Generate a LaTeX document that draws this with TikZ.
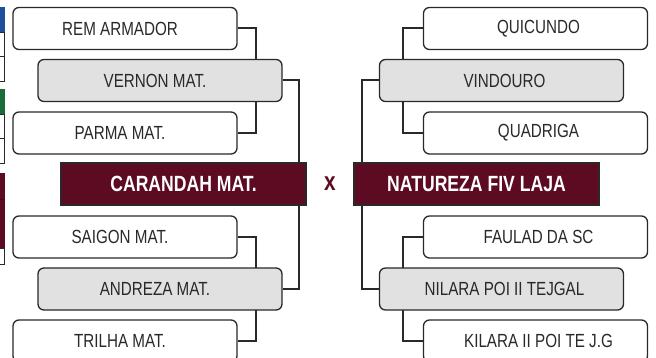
\documentclass[tikz,border=0pt]{standalone}
\usepackage{fontspec}
\setmainfont{Liberation Sans}[FakeStretch=0.8]
\usepackage{tikz}
\usetikzlibrary{backgrounds, positioning}
\usepackage{xcolor}
\definecolor{vinho}{HTML}{5C0B22}
\definecolor{cinza}{HTML}{E1E1E2}
\definecolor{tinta}{HTML}{2A2829}
\definecolor{azulbox}{HTML}{1F4F9C}
\definecolor{verdebox}{HTML}{1A6A3A}

\begin{document}
\begin{tikzpicture}[x=1pt, y=-1pt,
    team/.style={draw=tinta, line width=1.3pt, rounded corners=6pt, fill=white,
      minimum width=224pt, minimum height=42pt, inner sep=0pt, text=tinta,
      font=\fontsize{19}{21}\selectfont},
    winner/.style={team, fill=cinza, minimum width=244pt},
    westside/.style={execute at begin node={\hspace*{-10pt}}},
    eastside/.style={execute at begin node={\hspace*{6pt}}},
    finalist/.style={draw=tinta, line width=1.3pt, fill=vinho, text=white,
      minimum width=245pt, minimum height=42pt, inner sep=0pt,
      font=\fontsize{22}{24}\selectfont\bfseries},
    link/.style={draw=tinta, line width=2pt},
    edge/.style={draw=tinta, line width=0.9pt}]
  \useasboundingbox (0,0) rectangle (656,358);
  \clip (0,0) rectangle (656,358);

  % cut-off strip of the neighbouring table
  \fill[azulbox] (-5,7) rectangle (4.5,32);
  \draw[edge] (-5,32) rectangle (4.5,56);
  \draw[edge] (-5,56) rectangle (4.5,81);
  \fill[verdebox] (-5,89) rectangle (4.5,114);
  \draw[edge] (-5,114) rectangle (4.5,138);
  \draw[edge] (-5,138) rectangle (4.5,163);
  \fill[vinho] (-5,173) rectangle (4.5,248);
  \draw[edge, draw=vinho!70!black] (-5,199) -- (4.5,199);
  \draw[edge] (-5,248) rectangle (4.5,264);

  % left bracket
  \node[team, westside] (rem) at (125,28.5) {REM ARMADOR};
  \node[winner, westside] (vernon) at (160,80.5) {VERNON MAT.};
  \node[team, westside] (parma) at (125,133) {PARMA MAT.};
  \node[finalist] (carandah) at (183.5,184) {CARANDAH MAT.};
  \node[team, westside] (saigon) at (125,237) {SAIGON MAT.};
  \node[winner, westside] (andreza) at (160,289) {ANDREZA MAT.};
  \node[team, westside] (trilha) at (125,341) {TRILHA MAT.};

  % right bracket
  \node[team, eastside] (quicundo) at (535.5,28.5) {QUICUNDO};
  \node[winner, eastside] (vindouro) at (501.5,80.5) {VINDOURO};
  \node[team, eastside] (quadriga) at (535.5,133) {QUADRIGA};
  \node[finalist] (natureza) at (476.5,184) {NATUREZA FIV LAJA};
  \node[team, eastside] (faulad) at (535.5,237) {FAULAD DA SC};
  \node[winner, eastside] (nilara) at (501.5,289) {NILARA POI II TEJGAL};
  \node[team, eastside] (kilara) at (535.5,341) {KILARA II POI TE J.G};

  \node[text=vinho, font=\fontsize{26}{28}\selectfont\bfseries] (versus) at (330,184) {x};

  \begin{scope}[on background layer]
    \draw[link] (rem.east) -- ++(18,0) |- (parma.east);
    \draw[link] (vernon.east) -| ([xshift=-8pt]carandah.north east);
    \draw[link] ([xshift=-8pt]carandah.south east) |- (andreza.east);
    \draw[link] (saigon.east) -- ++(18,0) |- (trilha.east);
    \draw[link] (quicundo.west) -- ++(-20,0) |- (quadriga.west);
    \draw[link] (vindouro.west) -| ([xshift=9pt]natureza.north west);
    \draw[link] ([xshift=9pt]natureza.south west) |- (nilara.west);
    \draw[link] (faulad.west) -- ++(-20,0) |- (kilara.west);
  \end{scope}
\end{tikzpicture}
\end{document}
